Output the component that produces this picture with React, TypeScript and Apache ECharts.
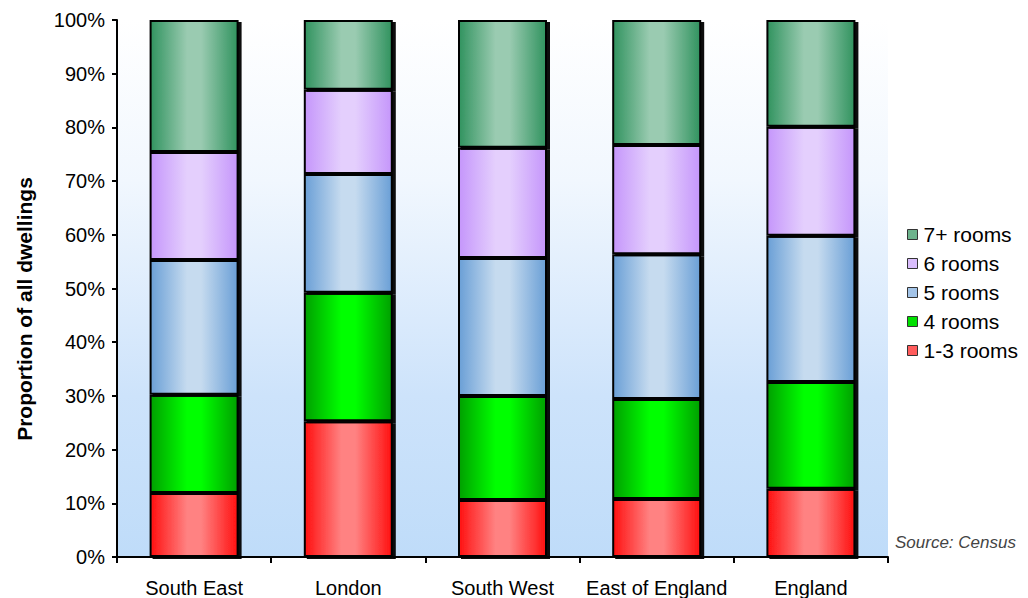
import React, { useEffect, useRef } from "react";
import * as echarts from "echarts";

const categories = ["South East", "London", "South West", "East of England", "England"];
const yTicks = [0, 10, 20, 30, 40, 50, 60, 70, 80, 90, 100];

// Share of dwellings (%) by number of rooms
const rooms1to3 = [11.9, 25.3, 10.6, 10.8, 12.7];
const rooms4 = [18.3, 23.9, 19.4, 18.6, 19.9];
const rooms5 = [25.1, 22.1, 25.7, 27.0, 27.2];
const rooms6 = [20.1, 15.7, 20.5, 20.3, 20.3];
const rooms7plus = [24.6, 13.0, 23.8, 23.3, 19.9];

const FONT = "'Liberation Sans', Arial, sans-serif";

// horizontal "cylinder" shading: dark edges, light centre
const shade = (edge: string, mid: string) =>
  new echarts.graphic.LinearGradient(0, 0, 1, 0, [
    { offset: 0, color: edge },
    { offset: 0.42, color: mid },
    { offset: 0.58, color: mid },
    { offset: 1, color: edge },
  ]);

const seriesDefs = [
  { name: "1-3 rooms", data: rooms1to3, edge: "#ff1010", mid: "#ff8282", legend: "#ff5c5c" },
  { name: "4 rooms", data: rooms4, edge: "#00a000", mid: "#00ff00", legend: "#00e000" },
  { name: "5 rooms", data: rooms5, edge: "#6a9fd6", mid: "#c6dbef", legend: "#a3c4e8" },
  { name: "6 rooms", data: rooms6, edge: "#c596fb", mid: "#e4cffd", legend: "#d9bdfc" },
  { name: "7+ rooms", data: rooms7plus, edge: "#31935f", mid: "#9acbb1", legend: "#6db38c" },
];

export default function App() {
  const ref = useRef<HTMLDivElement>(null);

  useEffect(() => {
    document.body.style.margin = "0";
    if (!ref.current) return;
    const chart = echarts.init(ref.current, undefined, { renderer: "svg" });

    const option: echarts.EChartsOption = {
      animation: false,
      textStyle: { fontFamily: FONT },
      grid: {
        left: 117,
        right: 140,
        top: 20,
        bottom: 41,
        show: true,
        borderWidth: 0,
        backgroundColor: new echarts.graphic.LinearGradient(0, 0, 0, 1, [
          { offset: 0, color: "#ffffff" },
          { offset: 0.3, color: "#f1f7fe" },
          { offset: 0.7, color: "#cde3fb" },
          { offset: 1, color: "#bfdcf9" },
        ]),
      },
      legend: {
        orient: "vertical",
        left: 902,
        top: 219,
        itemWidth: 10,
        itemHeight: 10,
        itemGap: 8,
        icon: "rect",
        textStyle: { fontSize: 21, color: "#000", lineHeight: 20, fontFamily: FONT, padding: [0, 0, 0, 1] },
        data: [...seriesDefs].reverse().map((s) => ({
          name: s.name,
          itemStyle: { color: s.legend, borderColor: "#333", borderWidth: 1 },
        })),
      },
      xAxis: {
        type: "category",
        data: categories,
        axisLine: { lineStyle: { color: "#000", width: 2 } },
        axisTick: { show: true, length: 6, lineStyle: { color: "#000", width: 2 } },
        axisLabel: { color: "#000", fontSize: 20, margin: 21, interval: 0, fontFamily: FONT },
      },
      yAxis: {
        type: "value",
        min: yTicks[0],
        max: yTicks[yTicks.length - 1],
        interval: 10,
        axisLine: { show: true, lineStyle: { color: "#000", width: 2 } },
        axisTick: { show: true, length: 5, lineStyle: { color: "#000", width: 2 } },
        axisLabel: { color: "#000", fontSize: 20, margin: 12, formatter: "{value}%", fontFamily: FONT },
        splitLine: { show: false },
      },
      graphic: [
        {
          type: "text",
          x: 24,
          y: 309,
          rotation: Math.PI / 2,
          style: {
            text: "Proportion of all dwellings",
            fontSize: 21,
            fontWeight: "bold",
            fontFamily: FONT,
            fill: "#000",
            align: "center",
            verticalAlign: "middle",
          },
        },
        {
          type: "text",
          x: 895,
          y: 542,
          style: {
            text: "Source: Census",
            fontSize: 17,
            fontStyle: "italic",
            fontFamily: FONT,
            fill: "#444",
            align: "left",
            verticalAlign: "middle",
          },
        },
      ],
      series: seriesDefs.map((s) => ({
        name: s.name,
        type: "bar",
        stack: "rooms",
        barWidth: 89,
        data: s.data,
        itemStyle: {
          color: shade(s.edge, s.mid),
          borderColor: "#000",
          borderWidth: 2,
          shadowColor: "rgba(0,0,0,0.95)",
          shadowOffsetX: 3,
          shadowOffsetY: 2,
          shadowBlur: 0,
        },
        emphasis: { disabled: true },
      })),
    };

    chart.setOption(option);
    return () => chart.dispose();
  }, []);

  return <div ref={ref} style={{ width: 1028, height: 598 }} />;
}
